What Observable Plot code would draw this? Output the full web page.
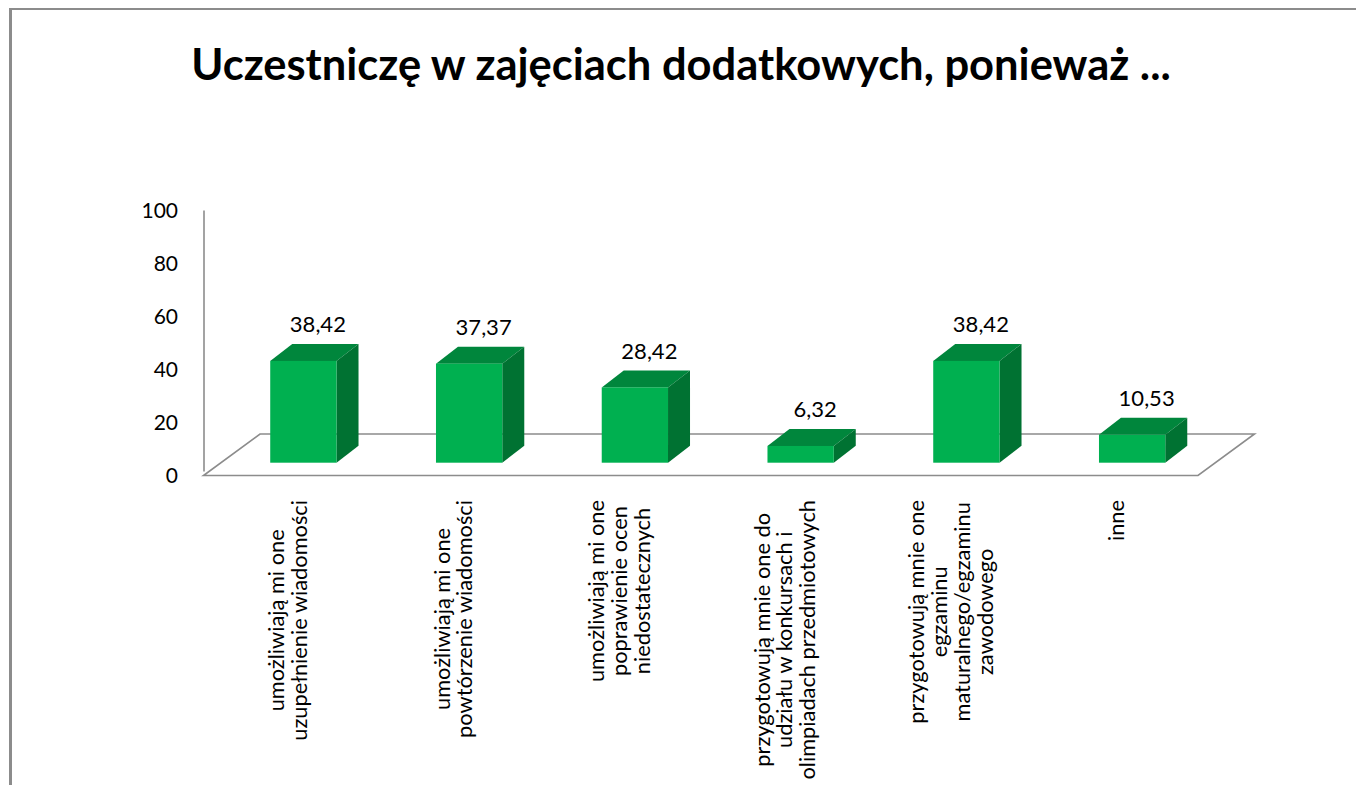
<!DOCTYPE html>
<html><head><meta charset="utf-8">
<script src="https://cdn.jsdelivr.net/npm/d3@7"></script>
<script src="https://cdn.jsdelivr.net/npm/@observablehq/plot@0.6"></script>
<style>
html,body{margin:0;padding:0;background:#fff;width:1356px;height:785px;overflow:hidden;font-family:Lato,sans-serif;}
#frame{position:absolute;left:9px;top:8px;width:1400px;height:800px;border-top:2px solid #8c8c8c;border-left:3px solid #8c8c8c;pointer-events:none;}
#title{position:absolute;left:0;top:36.5px;width:1362px;text-align:center;font:700 43.5px/1.2 Lato,sans-serif;color:#000;white-space:nowrap;}
#chart{position:absolute;left:0;top:120px;}
</style></head><body>
<div id="title">Uczestniczę w zajęciach dodatkowych, ponieważ ...</div>
<div id="chart"></div>
<div id="frame"></div>
<script>
const categories = [
  "umożliwiają mi one\nuzupełnienie wiadomości",
  "umożliwiają mi one\npowtórzenie wiadomości",
  "umożliwiają mi one\npoprawienie ocen\nniedostatecznych",
  "przygotowują mnie one do\nudziału w konkursach i\nolimpiadach przedmiotowych",
  "przygotowują mnie one\negzaminu\nmaturalnego/egzaminu\nzawodowego",
  "inne"
];
const values = [38.42, 37.37, 28.42, 6.32, 38.42, 10.53];
const yTicks = [0, 20, 40, 60, 80, 100];

const valueLabels = values.map(v => v.toFixed(2).replace(".", ","));
const data = categories.map((c, i) => ({i, c, v: values[i], label: valueLabels[i]}));

const FRONT = [17, -12.8];   // bar front face offset into the floor (px)
const DEPTH = [22, -17];     // bar depth (px)
const FLOOR = [56.5, -41.5]; // floor depth (px)
const BAR_W = 0.4;
const GREEN = "#00b050", TOP = "#00863c", SIDE = "#007232", GRID = "#8c8c8c";

function bars3d(index, scales, vals, dims, ctx, next) {
  const g = d3.create("svg:g").attr("transform", `translate(${FRONT[0]},${FRONT[1]})`);
  const {x1: X1, x2: X2, y1: Y1, y2: Y2} = vals;
  const [dx, dy] = DEPTH;
  for (const i of index) {
    const l = X1[i], r = X2[i], t = Math.min(Y1[i], Y2[i]), b = Math.max(Y1[i], Y2[i]);
    g.append("path").attr("d", `M${l},${t}L${r},${t}L${r+dx},${t+dy}L${l+dx},${t+dy}Z`).attr("fill", TOP);
    g.append("path").attr("d", `M${r},${t}L${r+dx},${t+dy}L${r+dx},${b+dy}L${r},${b}Z`).attr("fill", SIDE);
  }
  const front = next(index, scales, vals, dims, ctx);
  g.node().appendChild(front);
  return g.node();
}

function floor(index, scales) {
  const x0 = scales.x(0), x1 = scales.x(categories.length), y0 = scales.y(0);
  const [fx, fy] = FLOOR;
  return d3.create("svg:path")
    .attr("d", `M${x0},${y0}L${x1},${y0}L${x1+fx},${y0+fy}L${x0+fx},${y0+fy}Z`)
    .attr("fill", "none").attr("stroke", GRID).attr("stroke-width", 1.6).node();
}

const chart = Plot.plot({
  width: 1356,
  height: 665,
  marginLeft: 203.5,
  marginRight: 158,
  marginTop: 90.5,
  marginBottom: 309.5,
  style: {fontFamily: "Lato, sans-serif", fontSize: "21px", color: "#000", background: "transparent"},
  x: {domain: [0, categories.length], axis: null},
  y: {domain: [0, 100], ticks: yTicks, tickSize: 0, tickPadding: 26, label: null},
  marks: [
    Plot.ruleY([0], {render: floor}),
    Plot.ruleX([0], {y1: 0, y2: 100, stroke: GRID, strokeWidth: 1.6, insetTop: -4}),
    Plot.rectY(data, {x1: d => d.i + 0.5 - BAR_W / 2, x2: d => d.i + 0.5 + BAR_W / 2, y: "v", fill: GREEN, render: bars3d}),
    Plot.text(data, {x: d => d.i + 0.5, y: "v", text: "label", dx: 31, dy: -42, lineAnchor: "bottom", fontSize: 22, fill: "#000"}),
    Plot.text(data, {x: d => d.i + 0.5, frameAnchor: "bottom", text: "c", rotate: -90, textAnchor: "middle", lineAnchor: "middle", lineHeight: 1.05, fontSize: 21.8, dx: 1, fill: "#000"})
  ]
});
document.getElementById("chart").appendChild(chart);

// align the top of each rotated category label block with the same line
const svgTop = chart.getBoundingClientRect().top;
const targetTop = 500 - 120;
chart.querySelectorAll("text").forEach(t => {
  const tr = t.getAttribute("transform") || "";
  if (!tr.includes("rotate(-90")) return;
  const r = t.getBoundingClientRect();
  const delta = targetTop - (r.top - svgTop);
  t.setAttribute("transform", `translate(0,${delta}) ` + tr);
});
</script>
</body></html>
